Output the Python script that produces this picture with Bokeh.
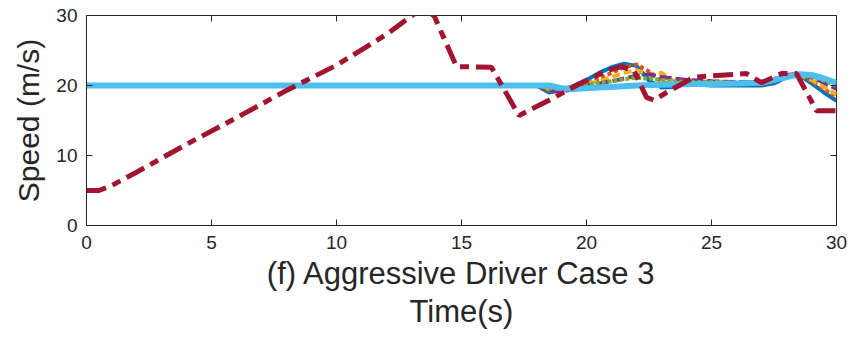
from bokeh.plotting import figure
from bokeh.models import FixedTicker, Range1d
from bokeh.embed import file_html
from bokeh.resources import INLINE

# ---- data ----
t_veh = [0, 18, 18.5, 19, 19.5, 20, 20.5, 21, 21.5, 22, 22.5, 23, 23.5, 24, 25, 26, 27, 27.5, 28, 28.5, 29, 29.5, 30]
v_blue = [20, 20, 19.0, 19.3, 20.0, 20.8, 21.8, 22.6, 23.1, 22.8, 20.7, 19.7, 19.8, 20.2, 20.0, 20.0, 20.0, 20.3, 21.2, 21.5, 20.3, 19.0, 17.8]
v_orange = [20, 20, 19.3, 19.2, 19.7, 20.2, 21.0, 21.8, 22.6, 23.0, 22.0, 20.5, 20.2, 20.4, 20.3, 20.2, 20.2, 20.6, 21.3, 21.5, 20.6, 19.5, 18.3]
v_yellow = [20, 20, 19.5, 19.4, 19.8, 20.2, 20.6, 21.2, 21.8, 22.2, 21.6, 21.8, 20.6, 20.5, 20.6, 20.4, 20.3, 20.8, 21.4, 21.6, 20.8, 19.8, 18.7]
v_purple = [20, 20, 19.4, 19.1, 19.5, 20.0, 20.3, 20.6, 21.0, 21.4, 21.6, 21.2, 21.0, 20.8, 20.6, 20.5, 20.5, 20.9, 21.5, 21.7, 21.2, 20.4, 19.5]
v_green = [20, 20, 19.6, 19.5, 19.8, 20.1, 20.4, 20.6, 20.9, 21.1, 21.0, 20.8, 20.6, 20.5, 20.5, 20.4, 20.4, 20.8, 21.3, 21.6, 21.3, 20.7, 20.0]

t_lead = [0, 18.5, 19, 19.5, 20, 20.5, 21, 21.5, 22, 23, 24, 25, 26, 27, 27.5, 28, 28.5, 29, 29.5, 30]
v_lead = [20, 20, 19.6, 19.5, 19.6, 19.7, 19.8, 19.9, 20.0, 20.1, 20.2, 20.2, 20.3, 20.4, 20.8, 21.2, 21.6, 21.5, 21.0, 20.4]

t_aggr = [0, 0.5, 1, 2, 4, 6, 8, 10, 12, 13.4, 13.9, 14.8, 16.2, 17.3, 18.5, 19.6, 20.8, 21.4, 21.9, 22.4, 22.7, 23.2, 24.3, 26.4, 27.0, 27.8, 28.4, 29.2, 30]
v_aggr = [5, 5, 5.7, 7.6, 11.6, 15.4, 19.3, 22.9, 27.3, 31.0, 30.0, 22.7, 22.6, 15.7, 17.9, 20.0, 22.1, 22.7, 22.1, 18.3, 17.9, 19.0, 21.2, 21.7, 20.4, 21.7, 21.7, 16.4, 16.4]

x_ticks = [0, 5, 10, 15, 20, 25, 30]
y_ticks = [0, 10, 20, 30]
x_lim = (0, 30)
y_lim = (0, 30)

FONT = "Liberation Sans"
TXT = "#262626"
TICK_PX = 6
W, H = 848, 333
BL, BR, BT, BB = 86, 12, 15, 108

p = figure(width=W, height=H, output_backend="svg", toolbar_location=None,
           x_range=Range1d(*x_lim), y_range=Range1d(*y_lim),
           min_border_left=BL, min_border_right=BR, min_border_top=BT, min_border_bottom=BB)
p.xgrid.visible = False
p.ygrid.visible = False
p.outline_line_color = TXT
p.outline_line_width = 1
p.outline_line_alpha = 1

p.line(t_veh, v_blue, line_color="#0072BD", line_width=4)
p.line(t_veh, v_orange, line_color="#D95319", line_width=4, line_dash="4 3")
p.line(t_veh, v_yellow, line_color="#EDB120", line_width=4, line_dash="8 4")
p.line(t_veh, v_purple, line_color="#7E2F8E", line_width=4, line_dash="12 4")
p.line(t_veh, v_green, line_color="#77AC30", line_width=4, line_dash="4 2")
p.line(t_lead, v_lead, line_color="#4DBEEE", line_width=6)
p.line(t_aggr, v_aggr, line_color="#A2142F", line_width=5, line_dash="20 7 9 7")

# inward ticks on top and right edges of the box (MATLAB style)
frame_w = W - BL - BR
frame_h = H - BT - BB
dy = TICK_PX * (y_lim[1] - y_lim[0]) / frame_h
dx = TICK_PX * (x_lim[1] - x_lim[0]) / frame_w
p.segment(x0=x_ticks, y0=[y_lim[1]] * len(x_ticks), x1=x_ticks, y1=[y_lim[1] - dy] * len(x_ticks),
          line_color=TXT, line_width=1)
p.segment(x0=[x_lim[1]] * len(y_ticks), y0=y_ticks, x1=[x_lim[1] - dx] * len(y_ticks), y1=y_ticks,
          line_color=TXT, line_width=1)

for ax in (p.xaxis[0], p.yaxis[0]):
    ax.axis_line_color = TXT
    ax.major_tick_line_color = TXT
    ax.major_tick_in = TICK_PX
    ax.major_tick_out = 0
    ax.minor_tick_line_color = None
    ax.major_label_text_font = FONT
    ax.major_label_text_font_size = "19px"
    ax.major_label_text_color = TXT
    ax.axis_label_text_font = FONT
    ax.axis_label_text_font_style = "normal"
    ax.axis_label_text_color = TXT
    ax.axis_label_text_line_height = 1.1

p.xaxis.axis_label_text_font_size = "31px"
p.yaxis.axis_label_text_font_size = "30px"
p.xaxis.ticker = FixedTicker(ticks=x_ticks)
p.yaxis.ticker = FixedTicker(ticks=y_ticks)
p.xaxis.major_label_standoff = 10
p.yaxis.major_label_standoff = 9
p.yaxis.axis_label = "Speed (m/s)"
p.yaxis.axis_label_standoff = 8
p.xaxis.axis_label = "(f) Aggressive Driver Case 3\nTime(s)"
p.xaxis.axis_label_standoff = 4

open("out.html", "w").write(file_html(p, INLINE))
